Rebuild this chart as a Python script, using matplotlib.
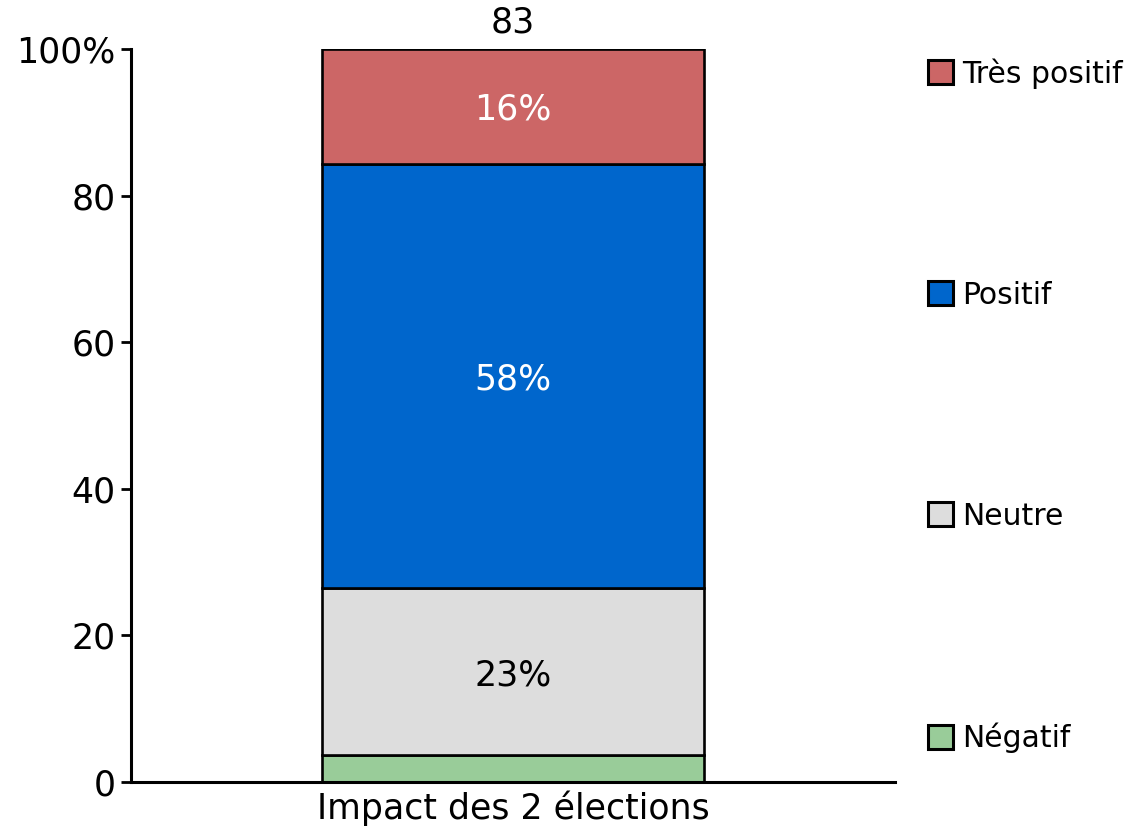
import matplotlib
matplotlib.use("Agg")
from matplotlib import pyplot as plt
from matplotlib.patches import Patch

category = "Impact des 2 élections"
labels = ["Négatif", "Neutre", "Positif", "Très positif"]
counts = [3, 19, 48, 13]
colors = ["#99CC99", "#DDDDDD", "#0066CC", "#CC6666"]
text_colors = ["black", "black", "white", "white"]

total = sum(counts)
pcts = [c / total * 100 for c in counts]

plt.rcParams["font.family"] = ["DejaVu Sans"]

fig = plt.figure(figsize=(11.3, 8.31), dpi=100)
ax = fig.add_axes([0.116, 0.059, 0.676, 0.882])

bottom = 0
for lab, p, col, tc in zip(labels, pcts, colors, text_colors):
    ax.bar(0, p, width=0.5, bottom=bottom, color=col, edgecolor="black",
           linewidth=1.9, label=lab, zorder=2)
    if p >= 5:
        ax.text(0, bottom + p / 2, "%d%%" % round(p), ha="center",
                va="center_baseline", fontsize=25, color=tc)
    bottom += p

ax.text(0, 101.3, str(total), ha="center", va="bottom", fontsize=25,
        clip_on=False)

ax.set_xlim(-0.5, 0.5)
ax.set_ylim(0, 100)
ax.set_yticks([0, 20, 40, 60, 80, 100])
ax.set_yticklabels(["0", "20", "40", "60", "80", "100%"], fontsize=25)
ax.set_xticks([0])
ax.set_xticklabels([category], fontsize=25)
ax.tick_params(axis="x", length=0, pad=6)
ax.tick_params(axis="y", length=7, width=2, pad=4)

for s in ["top", "right"]:
    ax.spines[s].set_visible(False)
for s in ["left", "bottom"]:
    ax.spines[s].set_linewidth(2.2)

handles = [Patch(facecolor=c, edgecolor="black", linewidth=2.2, label=l)
           for l, c in zip(labels, colors)][::-1]
fig.legend(handles=handles, loc="upper left", bbox_to_anchor=(0.808, 0.948),
           frameon=False, fontsize=21.5, handlelength=0.85, handleheight=0.85,
           handletextpad=0.3, labelspacing=6.43, borderpad=0)

fig.savefig("out.png", dpi=100)
